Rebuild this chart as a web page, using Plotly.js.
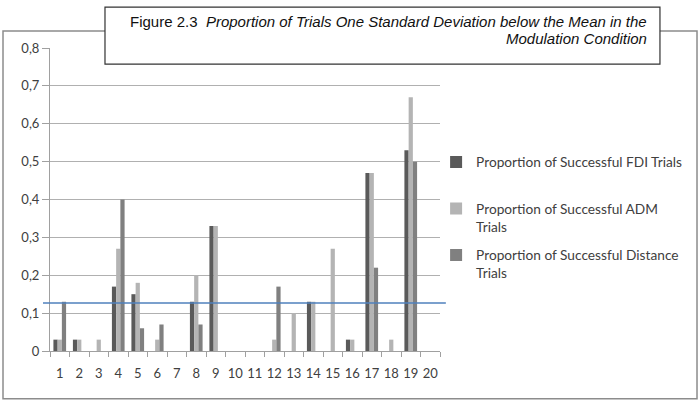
<!DOCTYPE html>
<html>
<head>
<meta charset="utf-8">
<script src="https://cdn.plot.ly/plotly-3.0.1.min.js"></script>
<style>
  html, body { margin: 0; padding: 0; background: #fff; }
  #chart { width: 699px; height: 409px; }
</style>
</head>
<body>
<div id="chart"></div>
<script>
// Participants 1..20
const participants = ['1','2','3','4','5','6','7','8','9','10','11','12','13','14','15','16','17','18','19','20'];

// Proportion of successful trials per participant
const fdiTrials      = [0.03, 0.03, 0,    0.17, 0.15, 0,    0, 0.13, 0.33, 0, 0, 0,    0,    0.13, 0,    0.03, 0.47, 0,    0.53, 0];
const admTrials      = [0.03, 0.03, 0.03, 0.27, 0.18, 0.03, 0, 0.20, 0.33, 0, 0, 0.03, 0.10, 0.13, 0.27, 0.03, 0.47, 0.03, 0.67, 0];
const distanceTrials = [0.13, 0,    0,    0.40, 0.06, 0.07, 0, 0.07, 0,    0, 0, 0.17, 0,    0,    0,    0,    0.22, 0,    0.50, 0];

// Reference threshold (one SD below the mean)
const thresholdValue = 0.127;

const yTickValues = [0, 0.1, 0.2, 0.3, 0.4, 0.5, 0.6, 0.7, 0.8];
const yTickLabels = ['0', '0,1', '0,2', '0,3', '0,4', '0,5', '0,6', '0,7', '0,8'];

const seriesNames = [
  'Proportion of Successful FDI Trials<br>&nbsp;',
  'Proportion of Successful ADM<br>Trials',
  'Proportion of Successful Distance<br>Trials'
];

const captionLine1 = 'Figure 2.3  <i>Proportion of Trials One Standard Deviation below the Mean in the</i>';
const captionLine2 = '<i>Modulation Condition</i>';

const traces = [
  { type: 'bar', x: participants, y: fdiTrials, name: seriesNames[0], legendgroup: 'a',
    marker: { color: '#5a5a5a' } },
  { type: 'bar', x: participants, y: admTrials, name: seriesNames[1], legendgroup: 'b',
    marker: { color: '#b4b4b4' } },
  { type: 'bar', x: participants, y: distanceTrials, name: seriesNames[2], legendgroup: 'c',
    marker: { color: '#808080' } }
];

const captionFont = { family: '"Liberation Sans", Arial, sans-serif', size: 15, color: '#111111' };

const layout = {
  width: 699,
  height: 409,
  margin: { l: 50, r: 259, t: 48, b: 58 },
  paper_bgcolor: '#ffffff',
  plot_bgcolor: '#ffffff',
  font: { family: 'Lato, "Open Sans", sans-serif', color: '#404040', size: 12 },
  barmode: 'group',
  bargap: 0.35,
  bargroupgap: 0,
  showlegend: true,
  legend: {
    x: 0.99, y: 0.675, xanchor: 'left', yanchor: 'top',
    font: { size: 13.7, color: '#404040' },
    tracegroupgap: 8,
    valign: 'top',
    bgcolor: 'rgba(0,0,0,0)'
  },
  xaxis: {
    type: 'category',
    tickson: 'boundaries',
    tickangle: 0,
    ticks: 'outside', ticklen: 5, tickcolor: '#a0a0a0',
    ticklabelstandoff: 10,
    showline: true, linecolor: '#a0a0a0', linewidth: 1,
    showgrid: false,
    tickfont: { size: 13 },
    automargin: false,
    fixedrange: true
  },
  yaxis: {
    range: [0, 0.8],
    tickvals: yTickValues,
    ticktext: yTickLabels,
    ticks: 'outside', ticklen: 7, tickcolor: '#a0a0a0',
    showline: true, linecolor: '#a0a0a0', linewidth: 1,
    showgrid: true, gridcolor: '#b0b0b0', gridwidth: 1,
    zeroline: false,
    tickfont: { size: 13 },
    automargin: false,
    fixedrange: true
  },
  shapes: [
    // outer chart frame
    { type: 'rect', xref: 'paper', yref: 'paper', x0: -0.1205, x1: 1.659, y0: -0.158, y1: 1.056,
      line: { color: '#8c8c8c', width: 1.5 }, fillcolor: 'rgba(0,0,0,0)', layer: 'below' },
    // threshold line
    { type: 'line', xref: 'paper', yref: 'y', x0: -0.018, x1: 1.015, y0: thresholdValue, y1: thresholdValue,
      line: { color: '#4f81bd', width: 1.5 }, layer: 'above' },
    // caption box
    { type: 'rect', xref: 'paper', yref: 'paper', x0: 0.141, x1: 1.564, y0: 0.947, y1: 1.135,
      line: { color: '#333333', width: 1.2 }, fillcolor: '#ffffff', layer: 'above' }
  ],
  annotations: [
    {
      xref: 'paper', yref: 'paper', x: 1.535, y: 1.089, xanchor: 'right', yanchor: 'middle',
      align: 'right', showarrow: false, font: captionFont, text: captionLine1
    },
    {
      xref: 'paper', yref: 'paper', x: 1.535, y: 1.030, xanchor: 'right', yanchor: 'middle',
      align: 'right', showarrow: false, font: captionFont, text: captionLine2
    }
  ]
};

Plotly.newPlot('chart', traces, layout, { displayModeBar: false, staticPlot: true });
</script>
</body>
</html>
